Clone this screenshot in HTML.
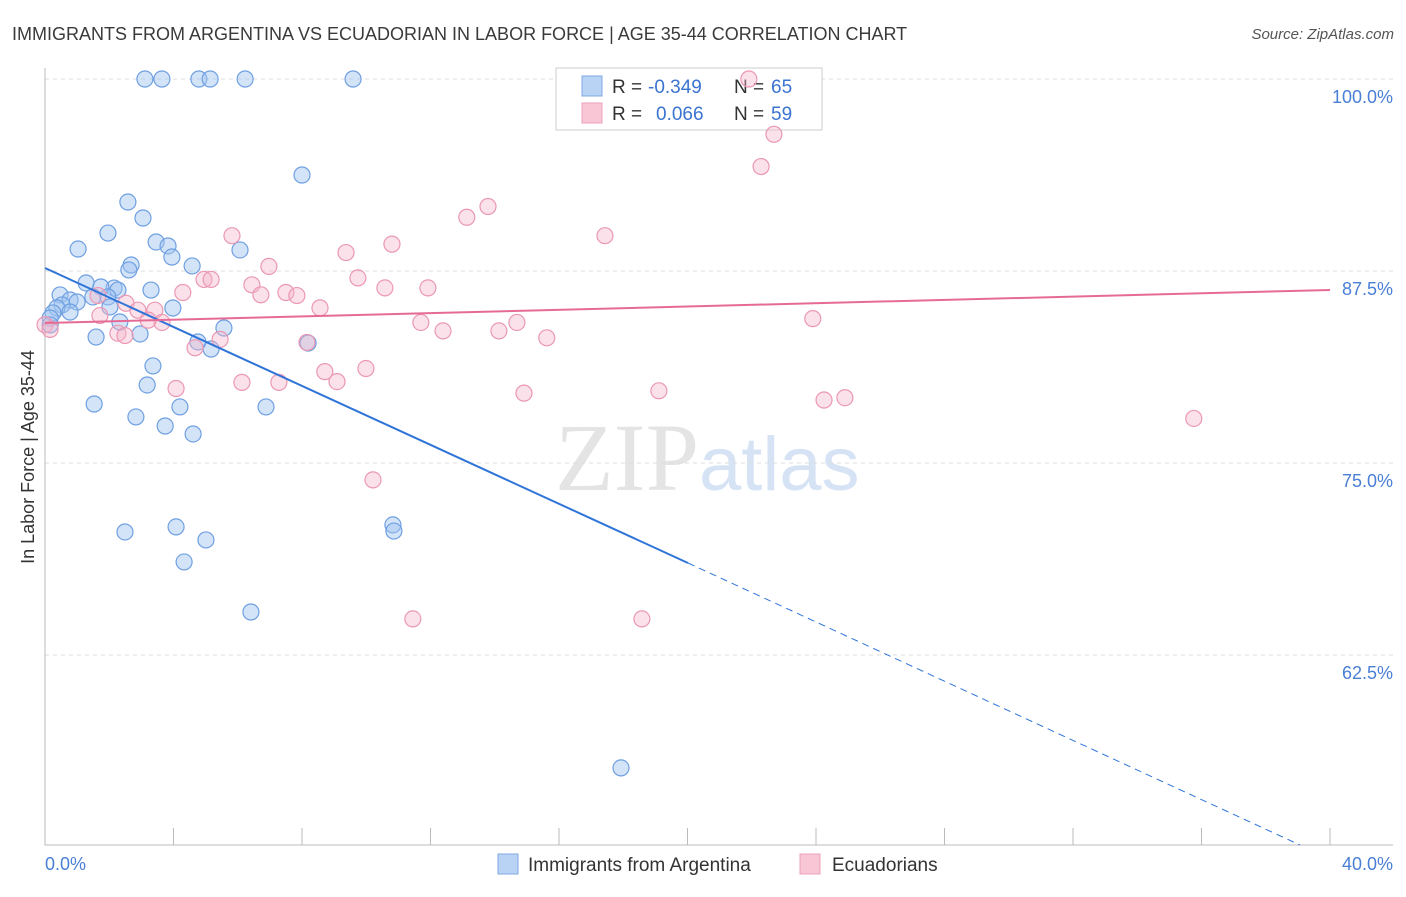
<!DOCTYPE html>
<html><head><meta charset="utf-8"><style>
body{margin:0;background:#fff;font-family:"Liberation Sans",sans-serif}
</style></head><body>
<svg id="chart" width="1406" height="892" xmlns="http://www.w3.org/2000/svg" style="font-family:'Liberation Sans',sans-serif">
<text x="12" y="40" font-size="18" fill="#3a3a3a">IMMIGRANTS FROM ARGENTINA VS ECUADORIAN IN LABOR FORCE | AGE 35-44 CORRELATION CHART</text>
<text x="1394" y="39" font-size="15" fill="#555" font-style="italic" text-anchor="end">Source: ZipAtlas.com</text>
<text x="555" y="490" font-size="96" fill="#e4e4e4" font-family="Liberation Serif">ZIP<tspan fill="#d5e3f5" font-family="Liberation Sans" font-size="76">atlas</tspan></text>
<g id="grid"></g>
<g id="axes"></g>
<g>
<rect x="556" y="68" width="266" height="62" fill="#fff" stroke="#ccc"/>
<rect x="582" y="76" width="20" height="20" fill="#b9d3f5" stroke="#7ea8e4"/>
<rect x="582" y="103" width="20" height="20" fill="#f9c6d5" stroke="#eca0b8"/>
<text x="612" y="93" font-size="19" fill="#333">R =</text>
<text x="648" y="93" font-size="19" fill="#3b74d0">-0.349</text>
<text x="734" y="93" font-size="19" fill="#333">N =</text>
<text x="771" y="93" font-size="19" fill="#3b74d0">65</text>
<text x="612" y="120" font-size="19" fill="#333">R =</text>
<text x="656" y="120" font-size="19" fill="#3b74d0">0.066</text>
<text x="734" y="120" font-size="19" fill="#333">N =</text>
<text x="771" y="120" font-size="19" fill="#3b74d0">59</text>
</g>
<g id="points"></g>
<g id="trends"></g>
<text transform="translate(34,457) rotate(-90)" font-size="18" fill="#333" text-anchor="middle">In Labor Force | Age 35-44</text>
<text x="45" y="870" font-size="18" fill="#4a7fd6">0.0%</text>
<text x="1393" y="870" font-size="18" fill="#4a7fd6" text-anchor="end">40.0%</text>
<g>
<rect x="498" y="854" width="20" height="20" fill="#b9d3f5" stroke="#7ea8e4"/>
<text x="528" y="871" font-size="19" fill="#333">Immigrants from Argentina</text>
<rect x="800" y="854" width="20" height="20" fill="#f9c6d5" stroke="#eca0b8"/>
<text x="832" y="871" font-size="19" fill="#333">Ecuadorians</text>
</g>
</svg>
<script>
const yTicks=[100,87.5,75,62.5];
const yTickLabels=["100.0%","87.5%","75.0%","62.5%"];
const xTicks=[0,4,8,12,16,20,24,28,32,36,40];
const blueX=[3.11,3.64,4.79,5.14,6.23,9.59,8.0,2.58,3.05,1.96,1.03,3.46,3.83,3.95,6.07,2.68,4.58,2.61,1.28,2.15,1.74,2.27,3.30,0.47,0.78,1.49,1.96,0.53,1.0,0.37,0.25,0.78,2.02,3.98,0.16,0.16,2.33,1.59,2.96,5.57,4.76,5.17,8.19,3.36,3.18,1.53,4.2,6.88,2.83,3.74,4.61,2.49,4.08,5.01,4.33,10.83,10.86,6.41,17.93];
const blueY=[100,100,100,100,100,100,93.75,91.99,90.95,89.97,88.93,89.39,89.13,88.41,88.87,87.89,87.83,87.57,86.72,86.39,86.46,86.26,86.26,85.94,85.61,85.81,85.81,85.29,85.48,85.09,84.77,84.83,85.16,85.09,84.44,83.99,84.18,83.2,83.4,83.79,82.88,82.42,82.81,81.32,80.08,78.84,78.65,78.65,78.0,77.41,76.89,70.51,70.84,69.99,68.56,70.97,70.57,65.3,55.15];
const pinkX=[21.91,22.69,22.29,13.79,13.13,17.43,5.82,10.8,9.37,6.97,4.95,5.17,6.44,9.74,10.58,11.92,4.29,6.72,7.5,7.84,8.56,1.65,2.52,3.42,2.89,1.71,3.64,3.21,2.27,2.49,5.45,8.155,11.7,12.39,14.13,14.69,15.62,23.9,4.67,4.08,6.13,7.28,8.71,9.09,9.99,14.91,19.11,24.25,24.9,35.76,10.21,11.45,18.58,0,0.16];
const pinkY=[100,96.4,94.3,91.7,91.0,89.8,89.8,89.25,88.7,87.8,86.95,86.95,86.6,87.05,86.4,86.4,86.1,85.95,86.1,85.9,85.1,85.9,85.4,84.95,84.95,84.6,84.15,84.3,83.45,83.3,83.05,82.85,84.15,83.6,83.6,84.15,83.15,84.4,82.5,79.85,80.25,80.25,80.95,80.3,81.15,79.55,79.7,79.1,79.25,77.9,73.9,64.85,64.85,84.0,83.7];
const X=v=>45+v/40*1285, Y=v=>79+(100-v)/12.5*192;
const NS="http://www.w3.org/2000/svg";
function mk(t,a,p){const e=document.createElementNS(NS,t);for(const k in a)e.setAttribute(k,a[k]);p.appendChild(e);return e;}
const grid=document.getElementById('grid'),axes=document.getElementById('axes'),pts=document.getElementById('points'),tr=document.getElementById('trends');
yTicks.forEach((v,i)=>{
 const l=mk('line',{x1:45,x2:1393,y1:Y(v),y2:Y(v),stroke:'#ddd','stroke-dasharray':'4,4'},grid);
 
 
 const t=mk('text',{x:1393,y:Y(v)+24,'font-size':18,fill:'#4a7fd6','text-anchor':'end'},grid);
 t.textContent=yTickLabels[i];
 
 
});
const ax=mk('path',{d:'M45 68 V845 H1393',stroke:'#bbb',fill:'none'},axes);


xTicks.forEach(v=>{
 const l=mk('line',{x1:X(v),x2:X(v),y1:828,y2:845,stroke:'#bbb'},axes);
 
 
});
for(let i=0;i<blueX.length;i++){
 const c=mk('circle',{cx:X(blueX[i]),cy:Y(blueY[i]),r:8,fill:'rgba(160,195,240,0.45)',stroke:'#6e9fe2','stroke-width':1.2},pts);
 
 
}
for(let i=0;i<pinkX.length;i++){
 const c=mk('circle',{cx:X(pinkX[i]),cy:Y(pinkY[i]),r:8,fill:'rgba(245,180,200,0.4)',stroke:'#eb98b3','stroke-width':1.2},pts);
 
 
}
const b1=mk('line',{x1:45,y1:268,x2:688,y2:563,stroke:'#2f74d8','stroke-width':2},tr);


const b2=mk('line',{x1:688,y1:563,x2:1300,y2:845,stroke:'#2f74d8','stroke-width':1,'stroke-dasharray':'7,5'},tr);


const p1=mk('line',{x1:45,y1:323,x2:1330,y2:290,stroke:'#e56b96','stroke-width':2},tr);


</script>
</body></html>
